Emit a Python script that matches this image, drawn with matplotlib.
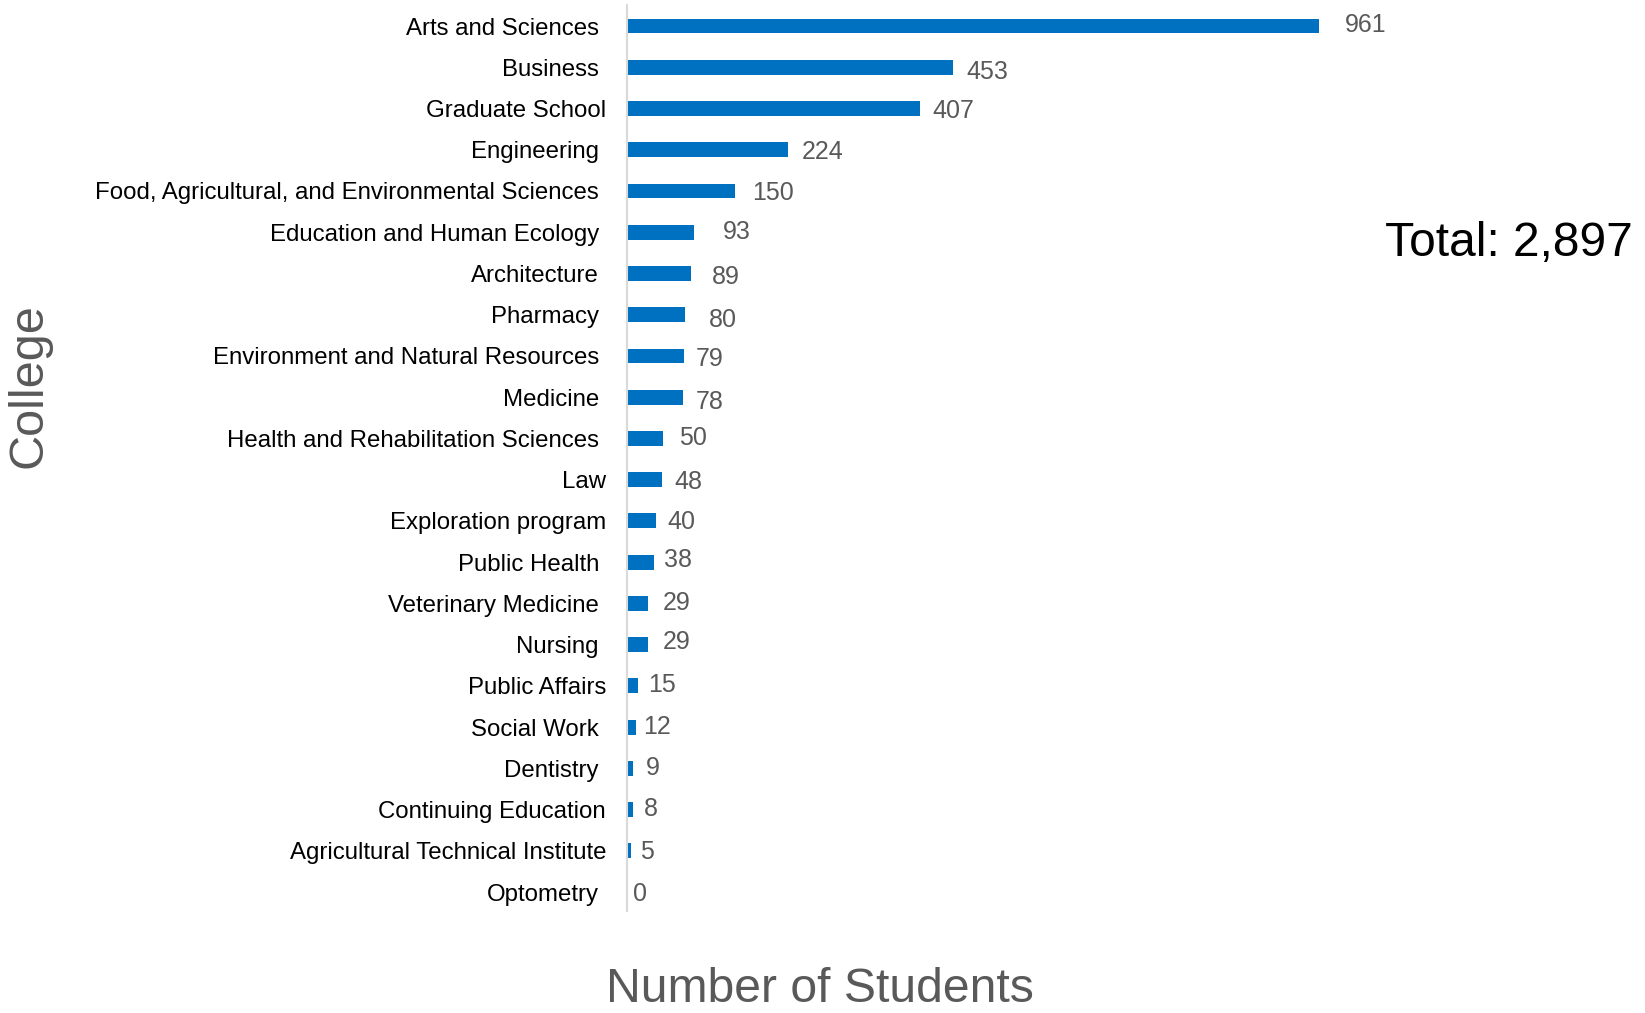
import matplotlib
matplotlib.use("Agg")
import matplotlib.pyplot as plt

# Enrollment by college
colleges = [
    "Arts and Sciences", "Business", "Graduate School", "Engineering",
    "Food, Agricultural, and Environmental Sciences", "Education and Human Ecology",
    "Architecture", "Pharmacy", "Environment and Natural Resources", "Medicine",
    "Health and Rehabilitation Sciences", "Law", "Exploration program",
    "Public Health", "Veterinary Medicine", "Nursing", "Public Affairs",
    "Social Work", "Dentistry", "Continuing Education",
    "Agricultural Technical Institute", "Optometry",
]
students = [961, 453, 407, 224, 150, 93, 89, 80, 79, 78, 50, 48, 40, 38, 29, 29,
            15, 12, 9, 8, 5, 0]
total_label = "Total: 2,897"

# Hand-placed label nudges (pixels): value labels (dx, dy), category label pads (pt)
value_dx = [26, 13, 12, 13, 17, 29, 21, 24, 12, 13, 16, 13, 12, 10, 15, 15, 10, 7, 12, 11, 9, 6]
value_dy = [-3, 3, 0, 0, 0, -2, 2, 3, 1, 3, -2, 0, -1, -4, -2, -5, -3, -2, -2, -3, -1, 0]
shifted = {"Graduate School", "Law", "Exploration program", "Public Affairs",
           "Continuing Education", "Agricultural Technical Institute"}

plt.rcParams["font.family"] = ["Liberation Sans", "DejaVu Sans"]

W, H, DPI = 1645, 1013, 100
fig = plt.figure(figsize=(W / DPI, H / DPI), dpi=DPI)
fig.patch.set_facecolor("white")

ax_left, ax_right = 627 / W, 1419 / W
ax_bottom, ax_top = 1 - 911 / H, 1 - 5 / H
ax = fig.add_axes([ax_left, ax_bottom, ax_right - ax_left, ax_top - ax_bottom])

pos = list(range(len(colleges)))
ax.barh(pos, students, height=0.36, color="#0070C0")
ax.set_xlim(0, 1100)
ax.set_ylim(len(colleges) - 1 + 0.46, -0.51)

for spine in ["top", "right", "bottom"]:
    ax.spines[spine].set_visible(False)
ax.spines["left"].set_color("#D9D9D9")
ax.spines["left"].set_linewidth(1.5)
ax.set_xticks([])
ax.set_yticks(pos)
ax.set_yticklabels(colleges, fontsize=17.3, color="black")
ax.tick_params(axis="y", length=0)
for tick, name in zip(ax.yaxis.get_major_ticks(), colleges):
    tick.set_pad(15.1 if name in shifted else 20.2)

for i, v in enumerate(students):
    ax.annotate(str(v), xy=(v, i), xytext=(value_dx[i], -value_dy[i] - 2),
                textcoords="offset pixels", ha="left", va="center",
                fontsize=18, color="#595959")

fig.text(1385 / W, 1 - 243 / H, total_label, fontsize=34.5, color="black",
         ha="left", va="center")
fig.text(820 / W, 1 - 989 / H, "Number of Students", fontsize=34.7, color="#595959",
         ha="center", va="center")
fig.text(29 / W, 1 - 386 / H, "College", fontsize=35, color="#595959",
         ha="center", va="center", rotation=90)

fig.savefig("out.png", dpi=DPI, facecolor="white")
